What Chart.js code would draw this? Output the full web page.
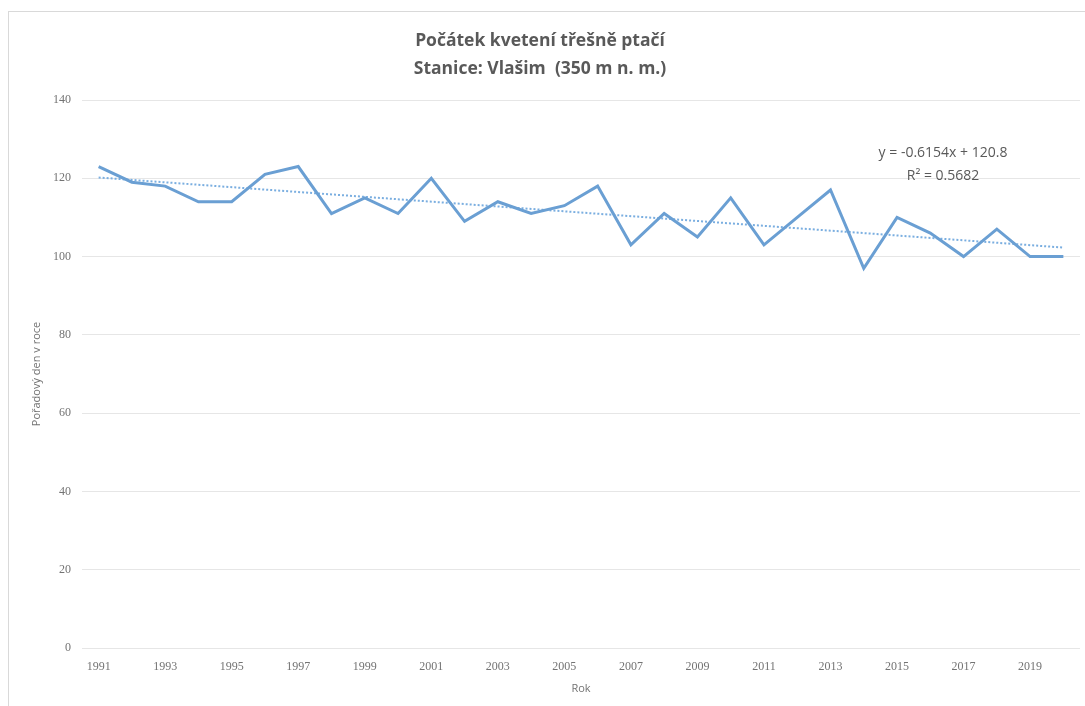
<!DOCTYPE html>
<html>
<head>
<meta charset="utf-8">
<script src="https://cdn.jsdelivr.net/npm/chart.js@4.4.1/dist/chart.umd.min.js"></script>
<style>
  html, body { margin: 0; padding: 0; background: #ffffff; overflow: hidden; }
  #frame { position: absolute; left: 8px; top: 11px; width: 1200px; height: 800px; border: 1px solid #d9d9d9; box-sizing: border-box; }
  #wrap { position: absolute; left: 0; top: 0; width: 1085px; height: 706px; }
</style>
</head>
<body>
<div id="frame"></div>
<div id="wrap"><canvas id="c" width="1085" height="706"></canvas></div>
<script>
const titleLines = ['Počátek kvetení třešně ptačí', 'Stanice: Vlašim  (350 m n. m.)'];
const xAxisTitle = 'Rok';
const yAxisTitle = 'Pořadový den v roce';
const years = ['1991','1992','1993','1994','1995','1996','1997','1998','1999','2000',
               '2001','2002','2003','2004','2005','2006','2007','2008','2009','2010',
               '2011','2012','2013','2014','2015','2016','2017','2018','2019','2020'];
const bloomDay = [123,119,118,114,114,121,123,111,115,111,
                  120,109,114,111,113,118,103,111,105,115,
                  103,110,117,97,110,106,100,107,100,100];
const yTickValues = [0,20,40,60,80,100,120,140];
const trendStart = 120.2;
const trendEnd = 102.3;
const trendLabels = ['y = -0.6154x + 120.8', 'R² = 0.5682'];

const trendData = years.map((_, i) => i === 0 ? trendStart : (i === years.length - 1 ? trendEnd : null));

const grey = '#595959';
const tickGrey = '#737373';

const equationPlugin = {
  id: 'equation',
  afterDatasetsDraw(chart) {
    const ctx = chart.ctx;
    ctx.save();
    ctx.fillStyle = grey;
    ctx.font = '14px "Open Sans"';
    ctx.textAlign = 'center';
    ctx.textBaseline = 'middle';
    ctx.fillText(trendLabels[0], 943, 153);
    ctx.fillText(trendLabels[1], 943, 176);
    ctx.restore();
  }
};

new Chart(document.getElementById('c'), {
  type: 'line',
  data: {
    labels: years,
    datasets: [
      {
        label: 'Počátek kvetení',
        data: bloomDay,
        borderColor: '#6a9fd3',
        borderWidth: 3,
        pointRadius: 0,
        tension: 0,
        fill: false,
        order: 1
      },
      {
        label: 'Lineární trend',
        data: trendData,
        spanGaps: true,
        borderColor: '#7aaee0',
        borderWidth: 2,
        borderDash: [2, 2],
        pointRadius: 0,
        fill: false,
        order: 2
      }
    ]
  },
  options: {
    responsive: false,
    animation: false,
    layout: { padding: { left: 0, right: 5, top: 0, bottom: 0 } },
    plugins: {
      legend: { display: false },
      tooltip: { enabled: false },
      title: {
        display: true,
        text: titleLines,
        color: grey,
        font: { family: '"Open Sans"', size: 17.5, weight: 'bold', lineHeight: 28/17.5 },
        padding: { top: 27, bottom: 17 }
      }
    },
    scales: {
      x: {
        type: 'category',
        offset: true,
        grid: { display: false },
        border: { display: false },
        ticks: {
          autoSkip: false,
          maxRotation: 0,
          minRotation: 0,
          padding: 4,
          color: tickGrey,
          font: { family: '"Liberation Serif"', size: 12 },
          callback: function(v, i) { return i % 2 === 0 ? years[i] : ''; }
        },
        title: {
          display: true,
          text: xAxisTitle,
          color: tickGrey,
          font: { family: '"Open Sans"', size: 11 },
          padding: { top: 0, bottom: 11 }
        },
        afterFit(s) { s.height = 58; }
      },
      y: {
        min: 0,
        max: 140,
        afterBuildTicks(s) { s.ticks = yTickValues.map(v => ({ value: v })); },
        grid: { color: '#e6e6e6', lineWidth: 1, drawTicks: false },
        border: { display: false },
        ticks: {
          padding: 11,
          color: tickGrey,
          font: { family: '"Liberation Serif"', size: 12 }
        },
        title: {
          display: true,
          text: yAxisTitle,
          color: tickGrey,
          font: { family: '"Open Sans"', size: 11 },
          padding: { top: 30, bottom: 0 }
        },
        afterFit(s) { s.width = 82; }
      }
    }
  },
  plugins: [equationPlugin]
});
</script>
</body>
</html>
